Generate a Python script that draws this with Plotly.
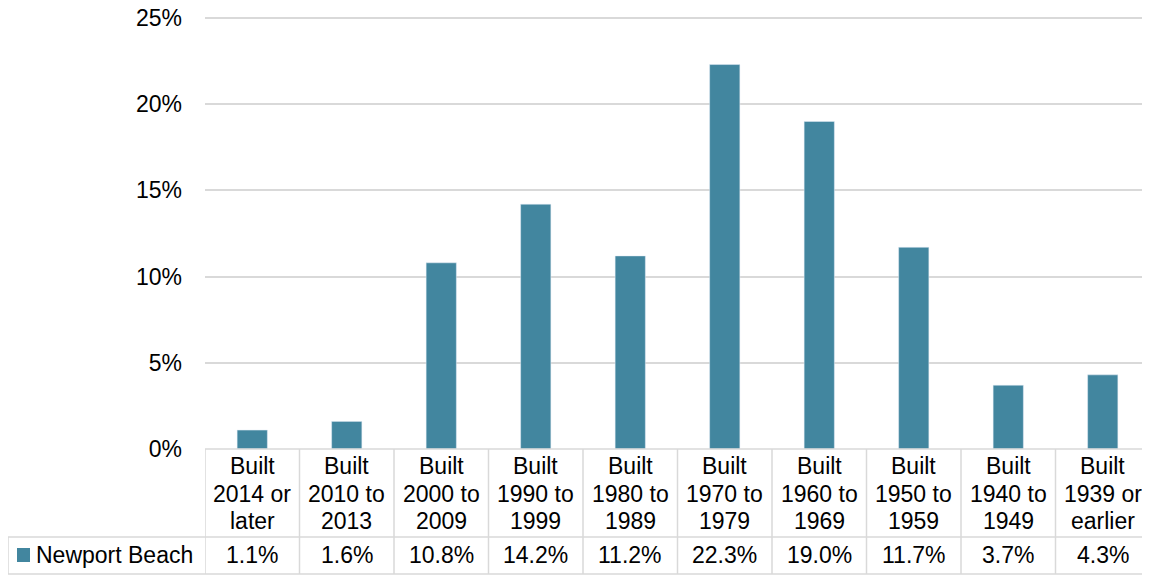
import plotly.graph_objects as go

category_lines = [["Built", "2014 or", "later"], ["Built", "2010 to", "2013"], ["Built", "2000 to", "2009"],
                  ["Built", "1990 to", "1999"], ["Built", "1980 to", "1989"], ["Built", "1970 to", "1979"],
                  ["Built", "1960 to", "1969"], ["Built", "1950 to", "1959"], ["Built", "1940 to", "1949"],
                  ["Built", "1939 or", "earlier"]]
values = [1.1, 1.6, 10.8, 14.2, 11.2, 22.3, 19.0, 11.7, 3.7, 4.3]
series_name = "Newport Beach"
y_ticks = [0, 5, 10, 15, 20, 25]

BAR = "#42869F"
GRID = "#D9D9D9"
FONT = "Liberation Sans, Arial, sans-serif"
FS = 23

OFF = 8  # page body margin
W, H = 1150 - OFF, 575 - OFF
# screen coordinates: left edge, 25% line, 0% line, right edge
SL, ST, SB, SR = 205, 18, 449, 1150
ML, MT = SL - OFF, 0
MB = H - (SB - OFF)
MR = W - (SR - OFF)
plot_h = H - MT - MB
plot_w = W - ML - MR
y_top = y_ticks[-1] * plot_h / (SB - ST)

def py(pix):
    return (SB - pix) / plot_h

def px(pix):
    return (pix - SL) / plot_w

xs = list(range(len(values)))
fig = go.Figure()
fig.add_trace(go.Bar(x=xs, y=values, marker_color=BAR, width=0.32, name=series_name,
                     showlegend=False, hoverinfo="y"))

shapes = []
y_row1 = py(537)
y_row2 = py(574)
line = dict(color=GRID, width=1.5)
for i in range(len(values) + 1):
    shapes.append(dict(type="line", xref="x", yref="paper", x0=i - 0.5, x1=i - 0.5,
                       y0=0, y1=y_row2, line=line))
shapes.append(dict(type="line", xref="x", yref="paper", x0=-0.5, x1=len(values) - 0.5,
                   y0=0, y1=0, line=line))
for yy in (y_row1, y_row2):
    shapes.append(dict(type="line", xref="paper", yref="paper", x0=px(8), x1=1,
                       y0=yy, y1=yy, line=line))
shapes.append(dict(type="line", xref="paper", yref="paper", x0=px(8), x1=px(8),
                   y0=y_row1, y1=y_row2, line=line))
shapes.append(dict(type="rect", xref="paper", yref="paper", x0=px(17), x1=px(30),
                   y0=py(562), y1=py(548), fillcolor=BAR, line=dict(width=0)))

font = dict(size=FS, color="#000000", family=FONT)
annotations = []
line_y = [466, 494, 521]
for i, (lines, v) in enumerate(zip(category_lines, values)):
    for txt, yy in zip(lines, line_y):
        annotations.append(dict(x=i, y=py(yy), xref="x", yref="paper", text=txt, showarrow=False,
                                font=font, yanchor="middle"))
    annotations.append(dict(x=i, y=py(555), xref="x", yref="paper", text=f"{v:.1f}%",
                            showarrow=False, font=font, yanchor="middle"))
annotations.append(dict(x=px(34), y=py(555), xref="paper", yref="paper", text=series_name,
                        showarrow=False, xanchor="left", yanchor="middle", font=font))

fig.update_layout(
    width=W, height=H,
    margin=dict(l=ML, r=MR, t=MT, b=MB, pad=0, autoexpand=False),
    paper_bgcolor="white", plot_bgcolor="white",
    shapes=shapes, annotations=annotations,
    font=font,
    xaxis=dict(range=[-0.5, len(values) - 0.5], showticklabels=False, showgrid=False,
               zeroline=False, showline=False, ticks="", automargin=False),
    yaxis=dict(range=[0, y_top], tickvals=y_ticks, ticktext=[f"{t}%" for t in y_ticks],
               showgrid=True, gridcolor=GRID, gridwidth=1.5, zeroline=False, showline=False,
               ticks="", ticklabelstandoff=22, tickfont=font, ticklabeloverflow="allow",
               automargin=False),
)

fig.write_html("out.html")
